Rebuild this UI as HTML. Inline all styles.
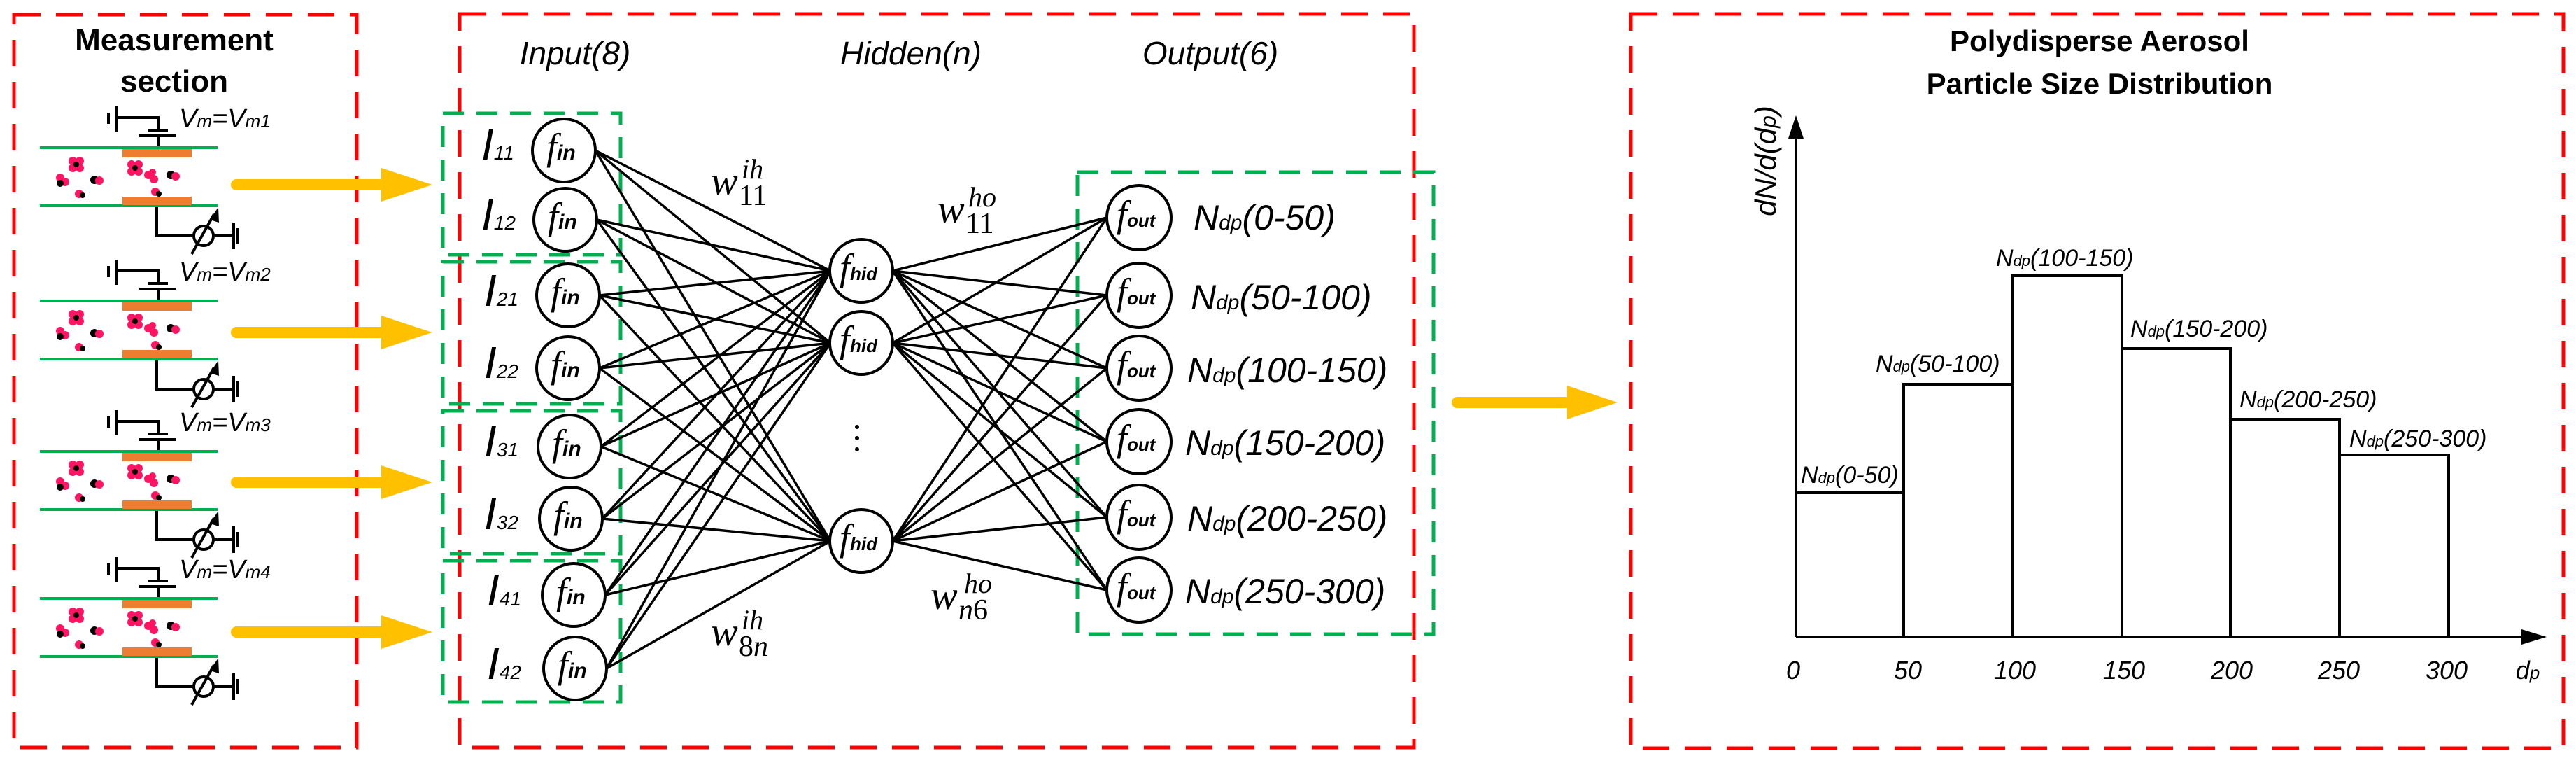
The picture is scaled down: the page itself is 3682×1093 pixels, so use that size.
<!DOCTYPE html>
<html><head><meta charset="utf-8"><style>
html,body{margin:0;padding:0;background:#fff;}
svg{display:block;}
text{font-family:"Liberation Sans",sans-serif;}
.it{font-style:italic;}
.sf{font-family:"Liberation Serif",serif;font-style:italic;}
.sr{font-family:"Liberation Serif",serif;}
</style></head><body>
<svg width="3682" height="1093" viewBox="0 0 3682 1093" xmlns="http://www.w3.org/2000/svg">
<defs>
<g id="circ">
  <g stroke="#000" stroke-width="4" fill="none">
    <line x1="155" y1="161" x2="155" y2="177"/>
    <line x1="166" y1="152" x2="166" y2="188"/>
    <polyline points="166,168 226,168 226,186"/>
    <line x1="212" y1="186" x2="240" y2="186"/>
    <line x1="199" y1="194" x2="252" y2="194"/>
    <line x1="226" y1="194" x2="226" y2="211"/>
    <polyline points="224,294 224,337 277,337"/>
    <circle cx="291" cy="337" r="14"/>
    <line x1="274" y1="363" x2="306" y2="306"/>
    <line x1="305" y1="337" x2="334" y2="337"/>
    <line x1="334" y1="318" x2="334" y2="356"/>
    <line x1="340" y1="326" x2="340" y2="348"/>
  </g>
  <polygon points="312,296 300,314 313,318" fill="#000"/>
  <line x1="57" y1="211" x2="311" y2="211" stroke="#00b050" stroke-width="4"/>
  <line x1="57" y1="294" x2="311" y2="294" stroke="#00b050" stroke-width="4"/>
  <rect x="175" y="213" width="99" height="12" fill="#ed7d31"/>
  <rect x="175" y="281" width="99" height="12" fill="#ed7d31"/>
  <g fill="#ff1463">
    <circle cx="104" cy="230" r="6"/><circle cx="114" cy="230" r="6"/><circle cx="104" cy="240" r="6"/><circle cx="114" cy="240" r="6"/><circle cx="109" cy="235" r="4" fill="#000"/>
    <circle cx="86" cy="254" r="6"/><circle cx="93" cy="260" r="6"/><circle cx="86" cy="262" r="5" fill="#000"/>
    <circle cx="135" cy="257" r="6" fill="#000"/><circle cx="142" cy="258" r="6"/>
    <circle cx="113" cy="277" r="6"/><circle cx="118" cy="279" r="4" fill="#000"/>
    <circle cx="188" cy="235" r="6"/><circle cx="198" cy="235" r="6"/><circle cx="188" cy="245" r="6"/><circle cx="198" cy="245" r="6"/><circle cx="193" cy="240" r="4" fill="#000"/>
    <circle cx="212" cy="250" r="6"/><circle cx="220" cy="256" r="6"/><circle cx="218" cy="246" r="5"/>
    <circle cx="244" cy="250" r="6" fill="#000"/><circle cx="251" cy="252" r="6"/>
    <circle cx="222" cy="274" r="6"/><circle cx="227" cy="277" r="4" fill="#000"/>
  </g>
</g>
</defs>
<rect x="20" y="21" width="490" height="1047" fill="none" stroke="#ff0000" stroke-width="5" stroke-dasharray="38 22"/>
<text x="249" y="72" font-size="44" font-weight="bold" text-anchor="middle">Measurement</text>
<text x="249" y="131" font-size="44" font-weight="bold" text-anchor="middle">section</text>
<use href="#circ"/>
<use href="#circ" transform="translate(0,219)"/>
<use href="#circ" transform="translate(0,434)"/>
<use href="#circ" transform="translate(0,644)"/>
<g font-size="38" class="it">
<text x="256" y="182">V<tspan font-size="26">m</tspan>=V<tspan font-size="26">m1</tspan></text>
<text x="256" y="401">V<tspan font-size="26">m</tspan>=V<tspan font-size="26">m2</tspan></text>
<text x="256" y="616">V<tspan font-size="26">m</tspan>=V<tspan font-size="26">m3</tspan></text>
<text x="256" y="826">V<tspan font-size="26">m</tspan>=V<tspan font-size="26">m4</tspan></text>
</g>
<g fill="#ffc000">
<g id="yarr"><rect x="330" y="256" width="220" height="16" rx="8"/><polygon points="545,240 618,264 545,288"/></g>
<use href="#yarr" transform="translate(0,211)"/>
<use href="#yarr" transform="translate(0,425)"/>
<use href="#yarr" transform="translate(0,639)"/>
<rect x="2075" y="567" width="170" height="16" rx="8"/><polygon points="2240,551 2312,575 2240,599"/>
</g>
<rect x="657" y="20" width="1364" height="1048" fill="none" stroke="#ff0000" stroke-width="5" stroke-dasharray="38 22"/>
<g font-size="46" class="it" text-anchor="middle">
<text x="822" y="92">Input(8)</text>
<text x="1302" y="92">Hidden(n)</text>
<text x="1730" y="92">Output(6)</text>
</g>
<g fill="none" stroke="#00b050" stroke-width="5" stroke-dasharray="30 18">
<rect x="633" y="162" width="254" height="202"/>
<rect x="633" y="374" width="254" height="203"/>
<rect x="633" y="587" width="254" height="204"/>
<rect x="633" y="801" width="254" height="202"/>
<rect x="1540" y="246" width="509" height="660"/>
</g>
<g stroke="#000" stroke-width="3.5">
<line x1="851" y1="215" x2="1187" y2="387"/><line x1="851" y1="215" x2="1187" y2="490"/><line x1="851" y1="215" x2="1187" y2="773"/>
<line x1="853" y1="314" x2="1187" y2="387"/><line x1="853" y1="314" x2="1187" y2="490"/><line x1="853" y1="314" x2="1187" y2="773"/>
<line x1="857" y1="422" x2="1187" y2="387"/><line x1="857" y1="422" x2="1187" y2="490"/><line x1="857" y1="422" x2="1187" y2="773"/>
<line x1="857" y1="526" x2="1187" y2="387"/><line x1="857" y1="526" x2="1187" y2="490"/><line x1="857" y1="526" x2="1187" y2="773"/>
<line x1="859" y1="638" x2="1187" y2="387"/><line x1="859" y1="638" x2="1187" y2="490"/><line x1="859" y1="638" x2="1187" y2="773"/>
<line x1="861" y1="741" x2="1187" y2="387"/><line x1="861" y1="741" x2="1187" y2="490"/><line x1="861" y1="741" x2="1187" y2="773"/>
<line x1="865" y1="850" x2="1187" y2="387"/><line x1="865" y1="850" x2="1187" y2="490"/><line x1="865" y1="850" x2="1187" y2="773"/>
<line x1="867" y1="955" x2="1187" y2="387"/><line x1="867" y1="955" x2="1187" y2="490"/><line x1="867" y1="955" x2="1187" y2="773"/>
<line x1="1276" y1="387" x2="1582" y2="311"/><line x1="1276" y1="387" x2="1582" y2="422"/><line x1="1276" y1="387" x2="1582" y2="526"/><line x1="1276" y1="387" x2="1582" y2="631"/><line x1="1276" y1="387" x2="1582" y2="739"/><line x1="1276" y1="387" x2="1582" y2="843"/>
<line x1="1276" y1="490" x2="1582" y2="311"/><line x1="1276" y1="490" x2="1582" y2="422"/><line x1="1276" y1="490" x2="1582" y2="526"/><line x1="1276" y1="490" x2="1582" y2="631"/><line x1="1276" y1="490" x2="1582" y2="739"/><line x1="1276" y1="490" x2="1582" y2="843"/>
<line x1="1276" y1="773" x2="1582" y2="311"/><line x1="1276" y1="773" x2="1582" y2="422"/><line x1="1276" y1="773" x2="1582" y2="526"/><line x1="1276" y1="773" x2="1582" y2="631"/><line x1="1276" y1="773" x2="1582" y2="739"/><line x1="1276" y1="773" x2="1582" y2="843"/>
</g>
<g fill="#fff" stroke="#000" stroke-width="4">
<circle cx="806" cy="215" r="45"/><circle cx="808" cy="314" r="45"/><circle cx="812" cy="422" r="45"/><circle cx="812" cy="526" r="45"/>
<circle cx="814" cy="638" r="45"/><circle cx="816" cy="741" r="45"/><circle cx="820" cy="850" r="45"/><circle cx="822" cy="955" r="45"/>
<circle cx="1231" cy="387" r="45"/><circle cx="1231" cy="490" r="45"/><circle cx="1231" cy="773" r="45"/>
<circle cx="1628" cy="311" r="46"/><circle cx="1628" cy="422" r="46"/><circle cx="1628" cy="526" r="46"/><circle cx="1628" cy="631" r="46"/><circle cx="1628" cy="739" r="46"/><circle cx="1628" cy="843" r="46"/>
</g>
<g class="it">
<g font-size="30" font-weight="bold">
<text x="781" y="228"><tspan class="sf" font-size="54" font-weight="normal">f</tspan>in</text>
<text x="783" y="327"><tspan class="sf" font-size="54" font-weight="normal">f</tspan>in</text>
<text x="787" y="435"><tspan class="sf" font-size="54" font-weight="normal">f</tspan>in</text>
<text x="787" y="539"><tspan class="sf" font-size="54" font-weight="normal">f</tspan>in</text>
<text x="789" y="651"><tspan class="sf" font-size="54" font-weight="normal">f</tspan>in</text>
<text x="791" y="754"><tspan class="sf" font-size="54" font-weight="normal">f</tspan>in</text>
<text x="795" y="863"><tspan class="sf" font-size="54" font-weight="normal">f</tspan>in</text>
<text x="797" y="968"><tspan class="sf" font-size="54" font-weight="normal">f</tspan>in</text>
</g>
<g font-size="26" font-weight="bold">
<text x="1200" y="400"><tspan class="sf" font-size="54" font-weight="normal">f</tspan>hid</text>
<text x="1200" y="503"><tspan class="sf" font-size="54" font-weight="normal">f</tspan>hid</text>
<text x="1200" y="786"><tspan class="sf" font-size="54" font-weight="normal">f</tspan>hid</text>
<text x="1596" y="324"><tspan class="sf" font-size="54" font-weight="normal">f</tspan>out</text>
<text x="1596" y="435"><tspan class="sf" font-size="54" font-weight="normal">f</tspan>out</text>
<text x="1596" y="539"><tspan class="sf" font-size="54" font-weight="normal">f</tspan>out</text>
<text x="1596" y="644"><tspan class="sf" font-size="54" font-weight="normal">f</tspan>out</text>
<text x="1596" y="752"><tspan class="sf" font-size="54" font-weight="normal">f</tspan>out</text>
<text x="1596" y="856"><tspan class="sf" font-size="54" font-weight="normal">f</tspan>out</text>
</g>
<g font-size="64">
<text x="688" y="228">I<tspan font-size="28">11</tspan></text>
<text x="688" y="328">I<tspan font-size="28">12</tspan></text>
<text x="692" y="437">I<tspan font-size="28">21</tspan></text>
<text x="692" y="540">I<tspan font-size="28">22</tspan></text>
<text x="692" y="652">I<tspan font-size="28">31</tspan></text>
<text x="692" y="756">I<tspan font-size="28">32</tspan></text>
<text x="696" y="865">I<tspan font-size="28">41</tspan></text>
<text x="696" y="970">I<tspan font-size="28">42</tspan></text>
</g>
<g font-size="50">
<text x="1706" y="328">N<tspan font-size="30">dp</tspan>(0-50)</text>
<text x="1702" y="442">N<tspan font-size="30">dp</tspan>(50-100)</text>
<text x="1697" y="546">N<tspan font-size="30">dp</tspan>(100-150)</text>
<text x="1694" y="650">N<tspan font-size="30">dp</tspan>(150-200)</text>
<text x="1697" y="758">N<tspan font-size="30">dp</tspan>(200-250)</text>
<text x="1694" y="862">N<tspan font-size="30">dp</tspan>(250-300)</text>
</g>
</g>
<g fill="#000"><circle cx="1225" cy="610" r="3"/><circle cx="1225" cy="626" r="3"/><circle cx="1225" cy="642" r="3"/></g>
<g>
<text class="sf" x="1016" y="278" font-size="58">w</text><text class="sr" x="1056" y="293" font-size="42">11</text><text class="sf" x="1060" y="255" font-size="40">ih</text>
<text class="sf" x="1340" y="318" font-size="58">w</text><text class="sr" x="1380" y="333" font-size="42">11</text><text class="sf" x="1384" y="295" font-size="40">ho</text>
<text class="sf" x="1016" y="922" font-size="58">w</text><text class="sr" x="1056" y="937" font-size="42">8<tspan class="sf">n</tspan></text><text class="sf" x="1060" y="899" font-size="40">ih</text>
<text class="sf" x="1330" y="870" font-size="58">w</text><text class="sr" x="1370" y="885" font-size="42"><tspan class="sf">n</tspan>6</text><text class="sf" x="1378" y="847" font-size="40">ho</text>
</g>
<rect x="2331" y="20" width="1333" height="1049" fill="none" stroke="#ff0000" stroke-width="5" stroke-dasharray="38 22"/>
<g font-size="42" font-weight="bold" text-anchor="middle">
<text x="3001" y="73">Polydisperse Aerosol</text>
<text x="3001" y="134">Particle Size Distribution</text>
</g>
<g stroke="#000" stroke-width="4" fill="none">
<line x1="2567" y1="190" x2="2567" y2="910"/>
<line x1="2567" y1="910" x2="3615" y2="910"/>
<polyline points="2567,910 2567,704 2721,704 2721,910"/>
<polyline points="2721,910 2721,549 2877,549 2877,910"/>
<polyline points="2877,910 2877,394 3033,394 3033,910"/>
<polyline points="3033,910 3033,498 3188,498 3188,910"/>
<polyline points="3188,910 3188,599 3344,599 3344,910"/>
<polyline points="3344,910 3344,650 3500,650 3500,910"/>
</g>
<polygon points="2567,165 2556,198 2578,198" fill="#000"/>
<polygon points="3640,910 3604,899 3604,921" fill="#000"/>
<g class="it" font-size="34">
<text x="2574" y="690">N<tspan font-size="22">dp</tspan>(0-50)</text>
<text x="2681" y="531">N<tspan font-size="22">dp</tspan>(50-100)</text>
<text x="2853" y="380">N<tspan font-size="22">dp</tspan>(100-150)</text>
<text x="3045" y="481">N<tspan font-size="22">dp</tspan>(150-200)</text>
<text x="3201" y="582">N<tspan font-size="22">dp</tspan>(200-250)</text>
<text x="3358" y="638">N<tspan font-size="22">dp</tspan>(250-300)</text>
</g>
<g class="it" font-size="36" text-anchor="middle">
<text x="2563" y="970">0</text><text x="2727" y="970">50</text><text x="2880" y="970">100</text><text x="3036" y="970">150</text><text x="3190" y="970">200</text><text x="3343" y="970">250</text><text x="3497" y="970">300</text>
<text x="3613" y="970">d<tspan font-size="26">p</tspan></text>
</g>
<text class="it" font-size="42" transform="translate(2538,230) rotate(-90)" text-anchor="middle">dN/d(d<tspan font-size="32">p</tspan>)</text>
</svg>
</body></html>
